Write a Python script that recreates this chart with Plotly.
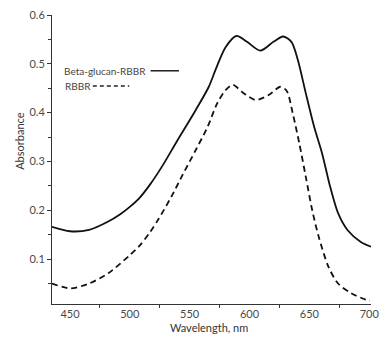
import plotly.graph_objects as go

# Beta-glucan-RBBR (solid)
wl_bg = [435, 450, 466, 482, 492, 500, 508, 517, 528, 539, 555, 566, 572, 580, 589, 598, 609, 620, 628, 635, 640.4, 647, 654, 660.6, 667.4, 674, 682, 693, 702]
abs_bg = [0.166, 0.157, 0.160, 0.177, 0.192, 0.207, 0.225, 0.253, 0.294, 0.340, 0.405, 0.453, 0.490, 0.534, 0.557, 0.545, 0.527, 0.545, 0.556, 0.545, 0.508, 0.440, 0.371, 0.317, 0.248, 0.194, 0.159, 0.135, 0.125]

# RBBR (dashed)
wl_rb = [435, 450, 466, 482, 500, 508, 516, 524, 535, 544, 555, 565, 573, 580, 586, 594, 605, 616, 625.7, 631, 636, 641.6, 647, 652.4, 657.8, 666, 674, 685, 697, 700.6]
abs_rb = [0.050, 0.040, 0.050, 0.071, 0.108, 0.127, 0.152, 0.182, 0.229, 0.272, 0.323, 0.371, 0.419, 0.446, 0.457, 0.442, 0.426, 0.436, 0.453, 0.445, 0.400, 0.337, 0.269, 0.200, 0.146, 0.084, 0.050, 0.030, 0.017, 0.015]

x_ticks = [450, 500, 550, 600, 650, 700]
y_ticks = [0.1, 0.2, 0.3, 0.4, 0.5, 0.6]
legend_names = ["Beta-glucan-RBBR", "RBBR"]

FONT = "Lato, 'Open Sans', sans-serif"
TICKC = "#4a4a4a"

fig = go.Figure()
fig.add_trace(go.Scatter(x=wl_bg, y=abs_bg, mode="lines", line=dict(color="#111", width=1.8, shape="spline", smoothing=0.8), name=legend_names[0], showlegend=False))
fig.add_trace(go.Scatter(x=wl_rb, y=abs_rb, mode="lines", line=dict(color="#111", width=1.8, dash="6px,4px", shape="spline", smoothing=0.8), name=legend_names[1], showlegend=False))

fig.update_layout(
    width=385, height=337,
    margin=dict(l=52, r=6, t=15, b=33),
    paper_bgcolor="white", plot_bgcolor="white",
    font=dict(family=FONT, size=11, color=TICKC),
    xaxis=dict(range=[435, 701.5], tickvals=x_ticks, ticktext=[str(v) for v in x_ticks],
               showgrid=False, zeroline=False, showline=True, linecolor="#333", linewidth=1,
               ticks="outside", ticklen=0, tickfont=dict(size=11, color=TICKC), ticklabeloverflow="allow",
               minor=dict(tickvals=[475, 525, 575, 625, 675], ticks="outside", ticklen=3, tickcolor="#333")),
    yaxis=dict(range=[0.008, 0.6], tickvals=y_ticks, ticktext=["0.1", "0.2", "0.3", "0.4", "0.5", "0.6"],
               showgrid=False, zeroline=False, showline=True, linecolor="#333", linewidth=1,
               ticks="outside", ticklen=4, tickcolor="#333", tickfont=dict(size=11, color=TICKC), ticklabeloverflow="allow",
               minor=dict(tickvals=[0.05, 0.15, 0.25, 0.35, 0.45, 0.55], ticks="outside", ticklen=3, tickcolor="#333")),
)

fig.add_annotation(text="Absorbance", xref="paper", yref="paper", x=-0.104, y=0.564, textangle=-90,
                   showarrow=False, xanchor="center", yanchor="middle", font=dict(size=11, color="#333", family=FONT))
fig.add_annotation(text="Wavelength, nm", xref="paper", yref="paper", x=0.492, y=-0.083,
                   showarrow=False, xanchor="center", yanchor="middle", font=dict(size=11, color="#333", family=FONT))

fig.add_annotation(text=legend_names[0], xref="paper", yref="paper", x=0.030, y=0.807, showarrow=False,
                   xanchor="left", yanchor="middle", font=dict(size=10, color="#444", family=FONT))
fig.add_annotation(text=legend_names[1], xref="paper", yref="paper", x=0.033, y=0.754, showarrow=False,
                   xanchor="left", yanchor="middle", font=dict(size=10, color="#444", family=FONT))
fig.add_shape(type="line", xref="paper", yref="paper", x0=0.309, x1=0.398, y0=0.807, y1=0.807, line=dict(color="#222", width=1.5))
fig.add_shape(type="line", xref="paper", yref="paper", x0=0.128, x1=0.242, y0=0.754, y1=0.754, line=dict(color="#222", width=1.5, dash="4px,3px"))

fig.write_html("out.html", config={"displayModeBar": False},
               post_script="document.body.style.margin='0px';document.body.style.overflow='hidden';")
